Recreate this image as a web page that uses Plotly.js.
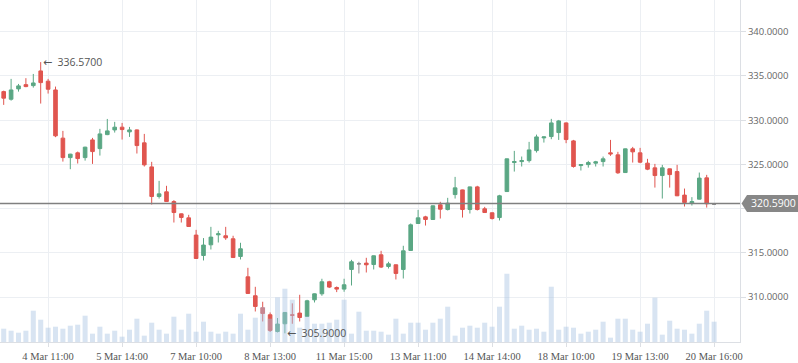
<!DOCTYPE html>
<html>
<head>
<meta charset="utf-8">
<script src="https://cdn.plot.ly/plotly-3.0.1.min.js"></script>
<style>html,body{margin:0;padding:0;background:#fff;}#chart{width:798px;height:363px;}</style>
</head>
<body>
<div id="chart"></div>
<script>
// ---- data (hourly bars, 4 Mar – 20 Mar) ----
const openP = [333.23,332.37,333.54,334.02,333.91,335.57,334.41,333.42,327.97,325.77,
326.31,325.77,327.77,326.79,328.37,328.90,329.21,328.68,328.90,327.44,
324.72,321.37,321.90,320.80,319.41,318.96,317.01,314.70,315.91,317.04,
316.93,316.59,314.59,312.29,310.15,308.79,308.00,306.11,306.98,307.99,
308.19,307.81,309.69,310.37,311.73,311.08,310.90,313.12,313.76,313.84,
313.68,314.78,313.46,313.65,313.12,315.27,318.32,319.07,318.77,320.43,
319.90,321.59,322.12,319.90,322.46,319.98,319.53,318.99,321.93,325.21,
325.32,325.43,326.56,328.00,328.15,328.60,329.69,327.66,324.87,324.98,
325.14,325.32,326.31,326.08,324.08,326.76,326.31,325.14,324.61,323.74,
324.50,324.19,321.53,320.62,321.07,323.48,320.50];
const highP = [333.34,334.67,334.10,334.75,335.23,336.57,334.67,333.80,328.79,326.20,
326.45,327.00,328.00,329.02,330.14,329.81,329.69,329.24,328.95,328.45,
325.29,323.14,322.58,320.96,319.45,319.30,317.60,316.67,317.94,317.49,
317.94,316.93,316.14,313.31,311.16,309.47,308.26,307.63,308.30,309.29,
310.26,309.69,310.40,312.07,311.84,311.20,312.07,314.21,313.99,314.44,
314.70,315.23,313.99,313.68,315.80,318.32,319.86,319.19,320.35,320.77,
321.22,323.59,322.15,322.49,322.58,320.20,319.56,321.56,325.66,326.53,
325.89,327.55,328.37,328.14,330.15,330.03,329.75,327.77,325.01,325.40,
325.40,325.89,327.77,326.42,326.79,326.98,326.87,325.63,325.06,324.95,
324.53,324.95,322.27,321.30,324.08,323.82,320.50];
const lowP = [331.73,332.21,333.23,333.73,333.68,331.88,333.01,328.08,325.32,324.46,
325.10,325.43,325.06,326.00,328.31,328.60,327.81,328.11,326.23,324.76,
320.46,321.14,320.75,318.43,318.43,317.95,314.33,314.14,315.38,316.17,
316.47,314.44,314.25,310.38,308.37,307.24,306.05,306.00,305.90,306.98,
307.24,307.78,309.39,310.15,311.02,310.56,310.60,311.31,312.67,312.78,
313.12,313.28,313.23,311.99,312.10,315.24,318.29,318.09,318.74,318.88,
319.79,321.14,318.99,319.45,319.79,319.53,318.77,318.66,321.90,324.19,
324.76,325.21,326.34,327.47,327.85,327.77,327.40,324.64,324.31,324.64,
324.76,324.76,325.97,323.93,324.05,325.21,325.14,324.35,322.38,321.14,
322.38,321.42,320.24,320.35,321.04,320.12,320.50];
const closeP = [332.49,333.42,333.88,333.80,334.21,334.25,333.50,328.23,325.77,326.16,
325.66,326.95,326.45,328.45,328.79,329.21,328.94,328.90,327.13,324.95,
321.37,321.67,320.80,319.56,319.00,317.98,314.36,315.88,316.78,317.15,
316.70,314.47,315.46,310.41,308.94,308.15,306.23,306.95,308.26,307.95,
307.69,309.58,310.37,311.73,311.13,310.90,311.39,313.99,313.76,313.65,
314.67,313.39,313.76,312.67,315.23,318.17,318.96,318.77,320.32,319.94,
320.62,322.35,319.90,322.46,319.90,319.56,318.88,321.45,325.63,325.32,
325.43,326.64,328.11,328.11,329.69,329.92,327.81,324.76,324.98,325.21,
325.29,325.63,326.19,324.05,326.76,326.42,325.25,324.46,323.74,324.61,
323.85,321.45,320.69,320.80,323.45,320.55,320.50];
const volume = [40,34,28,34,94,67,43,46,40,49,
52,79,25,46,25,34,16,37,70,19,
58,37,25,76,37,85,31,61,31,25,
31,25,85,37,73,105,70,134,160,127,
43,77,55,55,58,67,127,25,91,34,
34,31,22,70,25,58,58,37,58,70,
106,19,43,49,43,58,46,106,205,40,
49,37,40,31,166,37,46,43,25,31,
37,61,13,70,70,37,31,55,133,22,
64,40,37,25,55,94,61];
const flatBars = [48, 96];          // bars drawn in neutral grey
const tickIndex = [6,16,26,36,46,56,66,76,86,96];
const tickLabels = ['4 Mar 11:00','5 Mar 14:00','7 Mar 10:00','8 Mar 13:00','11 Mar 15:00',
  '13 Mar 11:00','14 Mar 14:00','18 Mar 10:00','19 Mar 13:00','20 Mar 16:00'];
const lastPrice = 320.59;
const priceTicks = [310,315,320,325,330,335,340];

// ---- build ----
const xIdx = openP.map((_, i) => i);
const GREEN = '#5aa784', RED = '#e0554f', GREY = '#8c8c8c';
const pick = (arr, keep) => arr.filter((_, i) => keep(i));
const isFlat = i => flatBars.includes(i);
const notFlat = i => !flatBars.includes(i);

const mainTrace = {
  type: 'candlestick', xaxis: 'x', yaxis: 'y',
  x: pick(xIdx, notFlat), open: pick(openP, notFlat), high: pick(highP, notFlat),
  low: pick(lowP, notFlat), close: pick(closeP, notFlat),
  increasing: {line: {color: GREEN, width: 1}, fillcolor: GREEN},
  decreasing: {line: {color: RED, width: 1}, fillcolor: RED},
  whiskerwidth: 0, hoverinfo: 'skip', showlegend: false
};
const flatTrace = {
  type: 'candlestick', xaxis: 'x', yaxis: 'y',
  x: pick(xIdx, isFlat), open: pick(openP, isFlat), high: pick(highP, isFlat),
  low: pick(lowP, isFlat), close: pick(closeP, isFlat),
  increasing: {line: {color: GREY, width: 1}, fillcolor: GREY},
  decreasing: {line: {color: GREY, width: 1}, fillcolor: GREY},
  whiskerwidth: 0, hoverinfo: 'skip', showlegend: false
};
const volTrace = {
  type: 'bar', x: xIdx, y: volume, xaxis: 'x', yaxis: 'y2', width: 0.68,
  marker: {color: 'rgba(168,196,226,0.45)', line: {width: 0}},
  hoverinfo: 'skip', showlegend: false
};

const y0 = 304.92, y1 = 343.59;
const plotW = 740, plotH = 342;
let hiIdx = 0, loIdx = 0;
highP.forEach((v, i) => { if (v > highP[hiIdx]) hiIdx = i; });
lowP.forEach((v, i) => { if (v < lowP[loIdx]) loIdx = i; });
const yp = (lastPrice - y0) / (y1 - y0);
const px = v => v / plotW, py = v => v / plotH;

const priceTag = 'M ' + (1 + px(1.5)) + ',' + yp +
  ' L ' + (1 + px(7)) + ',' + (yp + py(8.5)) +
  ' L ' + (1 + px(60)) + ',' + (yp + py(8.5)) +
  ' L ' + (1 + px(60)) + ',' + (yp - py(8.5)) +
  ' L ' + (1 + px(7)) + ',' + (yp - py(8.5)) + ' Z';

const arrow = '<span style="font-family:DejaVu Sans;font-size:11px">←</span>\u2002';
const noteFont = {family: 'Open Sans, sans-serif', size: 10.5, color: '#555'};

const layout = {
  width: 798, height: 363,
  margin: {l: 0, r: 58, t: 0, b: 21, pad: 0},
  paper_bgcolor: '#ffffff', plot_bgcolor: '#ffffff',
  showlegend: false, boxgap: 0.3,
  xaxis: {
    range: [-0.5, 99.5], tickmode: 'array', tickvals: tickIndex, ticktext: tickLabels,
    showgrid: true, gridcolor: '#eceff3', gridwidth: 1, zeroline: false,
    showline: true, linecolor: '#dcdfe4', linewidth: 1,
    ticks: 'outside', ticklen: 4, tickcolor: '#dcdfe4',
    tickfont: {family: 'Liberation Serif, serif', size: 10.5, color: '#555'},
    rangeslider: {visible: false}, fixedrange: true
  },
  yaxis: {
    range: [y0, y1], side: 'right', tickmode: 'array', tickvals: priceTicks,
    ticktext: priceTicks.map(v => v === 320 ? '' : v.toFixed(4)),
    showgrid: true, gridcolor: '#eceff3', gridwidth: 1, zeroline: false,
    showline: true, linecolor: '#dcdfe4', linewidth: 1,
    ticks: 'outside', ticklen: 5, tickcolor: '#dcdfe4',
    tickfont: {family: 'Open Sans, sans-serif', size: 9.5, color: '#666'},
    fixedrange: true
  },
  yaxis2: {overlaying: 'y', range: [0, 1027], visible: false, fixedrange: true},
  shapes: [
    {type: 'line', xref: 'paper', yref: 'y', x0: 0, x1: 1, y0: lastPrice, y1: lastPrice,
     line: {color: '#808080', width: 1.5}, layer: 'above'},
    {type: 'path', xref: 'paper', yref: 'paper', path: priceTag,
     fillcolor: '#878787', line: {width: 0}, layer: 'above'}
  ],
  annotations: [
    {x: hiIdx, y: highP[hiIdx], xref: 'x', yref: 'y', text: arrow + highP[hiIdx].toFixed(4),
     showarrow: false, xanchor: 'left', yanchor: 'middle', xshift: 0, font: noteFont},
    {x: loIdx, y: lowP[loIdx], xref: 'x', yref: 'y', text: arrow + lowP[loIdx].toFixed(4),
     showarrow: false, xanchor: 'left', yanchor: 'middle', xshift: 0, font: noteFont},
    {x: 1, y: lastPrice, xref: 'paper', yref: 'y', text: lastPrice.toFixed(4),
     showarrow: false, xanchor: 'left', yanchor: 'middle', xshift: 9,
     font: {family: 'Open Sans, sans-serif', size: 10.5, color: '#ffffff'}}
  ]
};

Plotly.newPlot('chart', [mainTrace, flatTrace, volTrace], layout, {displayModeBar: false, staticPlot: true});
</script>
</body>
</html>
